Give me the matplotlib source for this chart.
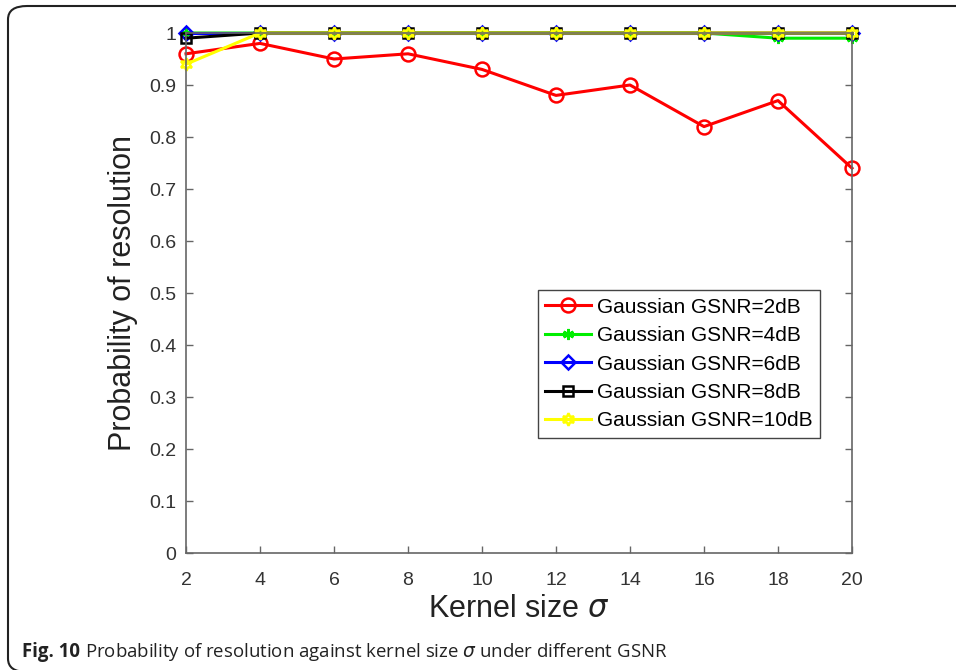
import matplotlib
matplotlib.use("Agg")
import matplotlib.pyplot as plt
from matplotlib.patches import FancyBboxPatch

# --- data ---
kernel = [2, 4, 6, 8, 10, 12, 14, 16, 18, 20]
p_2db = [0.96, 0.98, 0.95, 0.96, 0.93, 0.88, 0.90, 0.82, 0.87, 0.74]
p_4db = [1.00, 1.00, 1.00, 1.00, 1.00, 1.00, 1.00, 1.00, 0.99, 0.99]
p_6db = [1.00, 1.00, 1.00, 1.00, 1.00, 1.00, 1.00, 1.00, 1.00, 1.00]
p_8db = [0.99, 1.00, 1.00, 1.00, 1.00, 1.00, 1.00, 1.00, 1.00, 1.00]
p_10db = [0.94, 1.00, 1.00, 1.00, 1.00, 1.00, 1.00, 1.00, 1.00, 1.00]
labels = ["Gaussian GSNR=2dB", "Gaussian GSNR=4dB", "Gaussian GSNR=6dB",
          "Gaussian GSNR=8dB", "Gaussian GSNR=10dB"]
yticks = [0, 0.1, 0.2, 0.3, 0.4, 0.5, 0.6, 0.7, 0.8, 0.9, 1]

plt.rcParams['font.family'] = ['Liberation Sans', 'DejaVu Sans']
plt.rcParams['mathtext.fontset'] = 'dejavusans'

W, H = 956, 670
fig = plt.figure(figsize=(W / 100, H / 100), dpi=100)
# axes box in pixels: x 186..852, y 33..553
ax = fig.add_axes([186 / W, 1 - 553 / H, 666 / W, 520 / H])

# --- series ---
styles = [
    dict(color='red', marker='o', ms=10),
    dict(color='#00ee00', marker=(6, 2, 0), ms=8),
    dict(color='blue', marker='D', ms=7),
    dict(color='black', marker='s', ms=7),
    dict(color='#ffff00', marker=(6, 1, 0), ms=9),
]
for ys, lab, st in zip([p_2db, p_4db, p_6db, p_8db, p_10db], labels, styles):
    ax.plot(kernel, ys, color=st['color'], marker=st['marker'],
            markersize=st['ms'], markerfacecolor='none',
            markeredgecolor=st['color'], markeredgewidth=1.8,
            linewidth=2.2, label=lab, clip_on=False)

ax.set_xlim(2, 20)
ax.set_ylim(0, 1)
ax.set_xticks(kernel)
ax.set_yticks(yticks)
ax.set_yticklabels([f"{v:g}" for v in yticks])
for sp in ax.spines.values():
    sp.set_color('#666666')
    sp.set_linewidth(1.2)
ax.tick_params(direction='in', length=5, width=1, color='#666666',
               labelsize=14, labelcolor='#333333', top=False, right=True)
ax.tick_params(axis='x', pad=14)
ax.tick_params(axis='y', pad=7)

ax.set_xlabel(r"Kernel size $\sigma$", fontsize=22, color='#222222', labelpad=3)
ax.set_ylabel("Probability of resolution", fontsize=22, color='#222222',
              labelpad=8)

leg = ax.legend(loc='lower left', bbox_to_anchor=(0.528, 0.222),
                fontsize=15, frameon=True, fancybox=False, framealpha=1,
                edgecolor='#444444', handlelength=2.2, borderpad=0.35,
                borderaxespad=0, labelspacing=0.45, handletextpad=0.3)
leg.get_frame().set_linewidth(1.0)

# --- caption frame and caption ---
frame = FancyBboxPatch((8 / W, -2 / H), 1.2, (666 + 2 - 2) / H,
                       boxstyle="round,pad=0,rounding_size=0.02",
                       transform=fig.transFigure, fill=False,
                       edgecolor='#222222', linewidth=1.5, clip_on=False)
fig.patches.append(frame)

cap_y = 1 - 652 / H
t1 = fig.text(22 / W, cap_y, "Fig. 10", fontsize=13.4, fontweight='bold',
              family=['Open Sans', 'DejaVu Sans'], va='center', color='#222222')
fig.canvas.draw()
bb = t1.get_window_extent()
fig.text((bb.x1 + 5) / W, cap_y,
         r"Probability of resolution against kernel size $\sigma$ under different GSNR",
         fontsize=13.4, family=['Open Sans', 'DejaVu Sans'], va='center',
         color='#222222')

fig.savefig("out.png", dpi=100)
